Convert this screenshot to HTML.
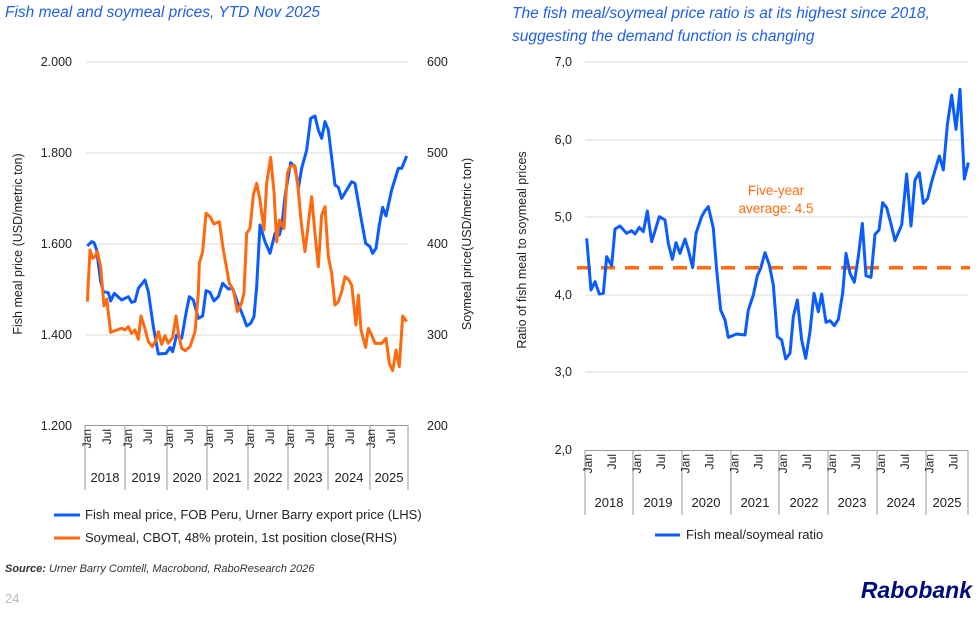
<!DOCTYPE html>
<html><head><meta charset="utf-8"><style>
body{margin:0;background:#fff;width:979px;height:614px;overflow:hidden;font-family:"Liberation Sans",sans-serif;}
svg text{font-family:"Liberation Sans",sans-serif;}
</style></head><body>
<svg width="979" height="614" viewBox="0 0 979 614" xmlns="http://www.w3.org/2000/svg">
<text x="5" y="17" font-size="15.5" font-style="italic" fill="#1f5fe8">Fish meal and soymeal prices, YTD Nov 2025</text>
<text x="512" y="18" font-size="15.5" font-style="italic" fill="#1f5fe8">The fish meal/soymeal price ratio is at its highest since 2018,</text>
<text x="512" y="41" font-size="15.5" font-style="italic" fill="#1f5fe8">suggesting the demand function is changing</text>

<!-- LEFT CHART -->
<g stroke="#d9d9d9" stroke-width="1">
<line x1="86" y1="62" x2="408" y2="62"/><line x1="86" y1="153" x2="408" y2="153"/><line x1="86" y1="244" x2="408" y2="244"/><line x1="86" y1="335" x2="408" y2="335"/>
</g>
<g font-size="12.5" fill="#222" text-anchor="end">
<text x="72" y="66">2.000</text><text x="72" y="157">1.800</text><text x="72" y="248">1.600</text><text x="72" y="339">1.400</text><text x="72" y="430">1.200</text>
</g>
<g font-size="12.5" fill="#222" text-anchor="start">
<text x="427" y="66">600</text><text x="427" y="157">500</text><text x="427" y="248">400</text><text x="427" y="339">300</text><text x="427" y="430">200</text>
</g>
<text transform="translate(22,244) rotate(-90)" font-size="12.5" fill="#222" text-anchor="middle">Fish meal price (USD/metric ton)</text>
<text transform="translate(471,244) rotate(-90)" font-size="12.5" fill="#222" text-anchor="middle">Soymeal price(USD/metric ton)</text>
<line x1="85" y1="425.5" x2="408" y2="425.5" stroke="#999"/>
<g stroke="#999">
<line x1="85" y1="425" x2="85" y2="490"/><line x1="125" y1="425" x2="125" y2="490"/><line x1="167" y1="425" x2="167" y2="490"/><line x1="207" y1="425" x2="207" y2="490"/><line x1="248" y1="425" x2="248" y2="490"/><line x1="288" y1="425" x2="288" y2="490"/><line x1="328" y1="425" x2="328" y2="490"/><line x1="370" y1="425" x2="370" y2="490"/><line x1="408" y1="425" x2="408" y2="490"/>
</g>
<g font-size="12" fill="#222">
<g id="lm">
<text transform="translate(91,429) rotate(-90)" text-anchor="end">Jan</text><text transform="translate(111,429) rotate(-90)" text-anchor="end">Jul</text>
</g>
<use href="#lm" x="41"/><use href="#lm" x="82"/><use href="#lm" x="122"/><use href="#lm" x="163"/><use href="#lm" x="203"/><use href="#lm" x="243"/><use href="#lm" x="284"/>
<g text-anchor="middle" font-size="13">
<text x="105" y="482">2018</text><text x="146" y="482">2019</text><text x="187" y="482">2020</text><text x="227" y="482">2021</text><text x="268" y="482">2022</text><text x="308" y="482">2023</text><text x="349" y="482">2024</text><text x="389" y="482">2025</text>
</g></g>

<g transform="translate(80,100) scale(0.33333)" fill="none" stroke-width="9" stroke-linejoin="round">
<polyline stroke="#0a5cff" points="22,438 35,425 42,428 50,450 62,545 70,575 85,578 92,603 103,580 125,600 145,590 155,607 165,604 175,565 195,540 205,575 220,680 235,762 258,760 265,750 270,742 278,755 290,705 305,715 318,640 328,590 340,600 355,655 368,648 378,572 390,577 402,603 415,590 428,550 445,567 458,565 470,600 490,650 500,678 512,670 522,650 530,560 540,375 555,425 570,460 585,400 598,405 605,380 615,290 632,188 645,200 655,265 665,205 680,150 692,55 705,48 715,90 725,115 735,65 745,90 765,255 775,262 785,295 800,270 815,245 825,250 845,365 857,430 870,440 878,460 888,445 898,375 908,322 918,348 935,270 955,205 965,205 980,168"/>
<polyline stroke="#ff6a0e" points="22,605 30,450 38,475 45,470 52,455 62,500 72,618 80,597 92,697 110,690 125,685 135,690 145,680 155,700 165,690 175,718 183,648 193,680 205,725 217,740 228,720 235,695 245,733 255,707 265,730 278,712 288,648 295,700 305,745 315,752 330,740 345,695 355,580 358,490 368,455 378,340 390,350 402,372 418,365 430,450 448,550 460,570 472,635 485,608 492,578 500,400 510,385 520,285 530,250 540,300 552,390 560,250 572,172 582,275 590,425 598,360 612,385 622,220 630,200 642,195 652,240 664,370 675,455 685,370 695,290 705,400 715,500 725,345 735,320 745,470 755,520 765,615 775,605 785,575 795,530 805,538 815,555 828,675 835,585 843,690 857,742 865,685 875,705 885,730 905,730 918,715 928,790 938,812 948,750 958,800 968,648 980,665"/>
</g>

<line x1="54" y1="515" x2="80" y2="515" stroke="#0a5cff" stroke-width="3"/>
<text x="85" y="519" font-size="13" fill="#222">Fish meal price, FOB Peru, Urner Barry export price (LHS)</text>
<line x1="54" y1="538" x2="80" y2="538" stroke="#ff6a0e" stroke-width="3"/>
<text x="85" y="542" font-size="13" fill="#222">Soymeal, CBOT, 48% protein, 1st position close(RHS)</text>

<!-- RIGHT CHART -->
<g stroke="#d9d9d9" stroke-width="1">
<line x1="585" y1="62" x2="968" y2="62"/><line x1="585" y1="140" x2="968" y2="140"/><line x1="585" y1="217" x2="968" y2="217"/><line x1="585" y1="295" x2="968" y2="295"/><line x1="585" y1="372" x2="968" y2="372"/>
</g>
<g font-size="12.5" fill="#222" text-anchor="end">
<text x="572" y="66">7,0</text><text x="572" y="144">6,0</text><text x="572" y="221">5,0</text><text x="572" y="299">4,0</text><text x="572" y="376">3,0</text><text x="572" y="454">2,0</text>
</g>
<text transform="translate(526,250) rotate(-90)" font-size="12.5" fill="#222" text-anchor="middle">Ratio of fish meal to soymeal prices</text>
<line x1="585" y1="450.5" x2="968" y2="450.5" stroke="#999"/>
<g stroke="#999">
<line x1="585" y1="450" x2="585" y2="515"/><line x1="633" y1="450" x2="633" y2="515"/><line x1="682" y1="450" x2="682" y2="515"/><line x1="731" y1="450" x2="731" y2="515"/><line x1="779" y1="450" x2="779" y2="515"/><line x1="828" y1="450" x2="828" y2="515"/><line x1="877" y1="450" x2="877" y2="515"/><line x1="926" y1="450" x2="926" y2="515"/><line x1="968" y1="450" x2="968" y2="515"/>
</g>
<g font-size="12" fill="#222">
<g id="rm">
<text transform="translate(592,454) rotate(-90)" text-anchor="end">Jan</text><text transform="translate(616,454) rotate(-90)" text-anchor="end">Jul</text>
</g>
<use href="#rm" x="48.8"/><use href="#rm" x="97.6"/><use href="#rm" x="146.4"/><use href="#rm" x="195.2"/><use href="#rm" x="244"/><use href="#rm" x="292.8"/><use href="#rm" x="341.6"/>
<g text-anchor="middle" font-size="13">
<text x="609" y="507">2018</text><text x="658" y="507">2019</text><text x="706" y="507">2020</text><text x="755" y="507">2021</text><text x="804" y="507">2022</text><text x="852" y="507">2023</text><text x="901" y="507">2024</text><text x="947" y="507">2025</text>
</g></g>

<line x1="577" y1="267.7" x2="970" y2="267.7" stroke="#ff6a0e" stroke-width="3.5" stroke-dasharray="14,10"/>
<text x="776" y="195" font-size="13.5" fill="#ff6a0e" text-anchor="middle">Five-year</text>
<text x="776" y="213" font-size="13.5" fill="#ff6a0e" text-anchor="middle">average: 4.5</text>

<g transform="translate(570,80) scale(0.33333)" fill="none" stroke-width="9" stroke-linejoin="round">
<polyline stroke="#0a5cff" points="50,475 63,630 75,605 88,642 100,640 110,530 125,557 135,447 150,438 170,460 185,452 195,462 208,442 220,455 232,393 245,485 268,410 285,420 295,490 307,538 318,488 330,520 345,477 355,510 368,563 378,460 395,410 405,392 415,380 430,445 440,570 452,690 465,720 475,772 500,762 525,765 535,690 550,645 562,587 572,565 585,518 598,555 610,615 622,770 635,780 647,837 660,820 670,710 682,660 695,780 707,835 720,755 732,640 745,695 755,642 768,727 780,722 793,737 805,718 818,640 828,520 840,580 853,607 865,530 877,430 888,587 903,592 915,463 927,450 938,368 950,383 963,432 975,482 995,435 1010,282 1023,438 1035,300 1048,278 1060,370 1073,355 1085,305 1108,228 1120,270 1132,135 1145,45 1158,148 1170,28 1183,297 1195,248"/>
</g>

<line x1="655" y1="535" x2="680" y2="535" stroke="#0a5cff" stroke-width="3"/>
<text x="686" y="539" font-size="13" fill="#222">Fish meal/soymeal ratio</text>

<text x="5" y="572" font-size="11" font-style="italic" fill="#333"><tspan font-weight="bold">Source:</tspan> Urner Barry Comtell, Macrobond, RaboResearch 2026</text>
<text x="5" y="603" font-size="13" fill="#bbb">24</text>
<text x="972" y="598" font-size="23" font-weight="bold" font-style="italic" fill="#000c7a" text-anchor="end">Rabobank</text>
</svg>
</body></html>
